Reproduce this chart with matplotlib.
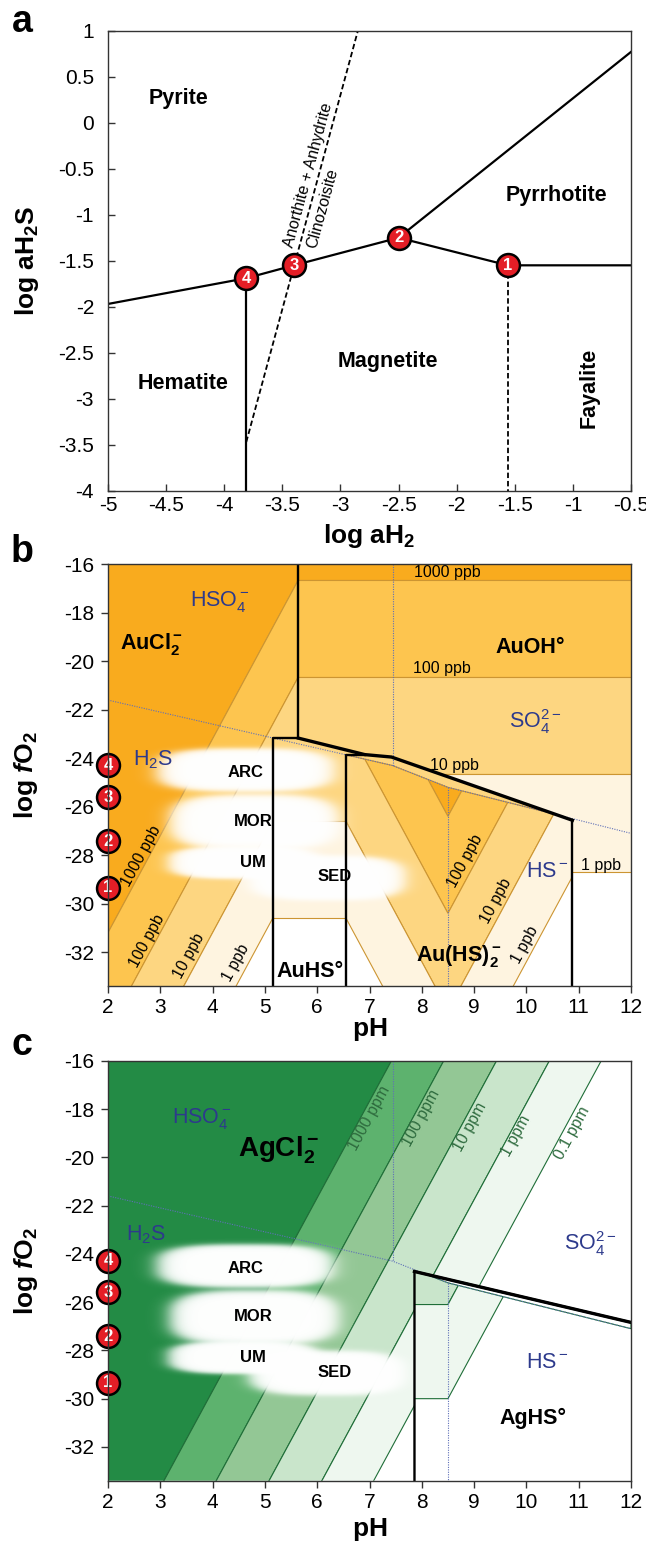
import numpy as np
import matplotlib
matplotlib.use('Agg')
import matplotlib.pyplot as plt
from matplotlib.patches import Polygon

plt.rcParams['font.family'] = ['Liberation Sans', 'DejaVu Sans']
plt.rcParams['mathtext.fontset'] = 'custom'
plt.rcParams['mathtext.rm'] = 'Liberation Sans'
plt.rcParams['mathtext.it'] = 'Liberation Sans:italic'
plt.rcParams['mathtext.bf'] = 'Liberation Sans:bold'
plt.rcParams['mathtext.bfit'] = 'Liberation Sans:italic:bold'
plt.rcParams['axes.unicode_minus'] = False

# ---------------- panel a: log aH2 vs log aH2S ----------------
a_main_x = [-5.0, -3.81, -3.40, -2.50, -1.56, -0.5]
a_main_y = [-1.97, -1.69, -1.55, -1.25, -1.55, -1.55]
a_po_x = [-2.50, -0.5]
a_po_y = [-1.25, 0.77]
a_hem_x = [-3.81, -3.81]
a_hem_y = [-1.69, -4.0]
a_czo_x = [-3.81, -2.85]
a_czo_y = [-3.47, 1.0]
a_fa_x = [-1.56, -1.56]
a_fa_y = [-1.55, -4.0]
a_pts_x = [-1.56, -2.50, -3.40, -3.81]
a_pts_y = [-1.55, -1.25, -1.55, -1.69]
pt_labels = ['1', '2', '3', '4']
minerals = ['Pyrite', 'Pyrrhotite', 'Magnetite', 'Hematite', 'Fayalite']
mineral_x = [-4.39, -1.14, -2.59, -4.35, -0.86]
mineral_y = [0.26, -0.79, -2.60, -2.83, -2.88]
mineral_rot = [0, 0, 0, 0, 90]

# ---------------- panels b, c: pH vs log fO2 ----------------
ph_lim = (2, 12)
fo2_lim = (-33.4, -16)
slope = 4.0
# sulfur species boundaries
sulf_x = [2, 7.44, 8.5, 12]
sulf_y = [-21.6, -24.3, -25.2, -27.1]
hso4_x = [7.44, 7.44]
hso4_y = [-16, -24.3]
h2s_x = [8.5, 8.5]
h2s_y = [-25.2, -33.4]

# reservoir clouds: centre x, centre y, half width, half height
cloud_names = ['ARC', 'MOR', 'UM', 'SED']
cloud_cx = [4.62, 4.80, 4.60, 6.18]
cloud_cy = [-24.5, -26.65, -28.3, -28.94]
cloud_hw = [1.70, 1.62, 1.45, 1.50]
cloud_hh = [0.90, 1.15, 0.68, 0.92]
cloud_tx = [4.62, 4.78, 4.78, 6.33]
cloud_ty = [-24.6, -26.6, -28.3, -28.9]

# numbered buffer points on the fO2 axis
buf_y = [-29.35, -27.42, -25.6, -24.28]

# gold (panel b), ppb levels 1000 / 100 / 10 / 1
au_colors = ['#F9AB1E', '#FDC54F', '#FDD681', '#FEF4E0']
aucl_x0 = [1.45, 2.45, 3.45, 4.45]        # pH of each contour at log fO2 = -33.4
auoh_y = [-16.66, -20.66, -24.66, -28.7]
auhs_y = [-18.6, -22.6, -26.6, -30.6]
auhs2_apex = [-26.4, -30.4, -34.4, -38.4]  # contour value at pH 8.5
aucl_field = [(2, -16), (5.64, -16), (5.64, -23.17), (5.15, -23.17), (5.15, -33.4), (2, -33.4)]
auoh_field = [(5.64, -16), (12, -16), (12, -33.4), (10.88, -33.4), (10.88, -26.56),
              (7.42, -23.95), (6.91, -23.85), (5.64, -23.17)]
auhs_field = [(5.15, -23.17), (5.64, -23.17), (6.55, -23.66), (6.55, -33.4), (5.15, -33.4)]
auhs2_field = [(6.55, -33.4), (6.55, -23.66), (6.91, -23.85), (7.42, -23.95),
               (10.88, -26.56), (10.88, -33.4)]

# silver (panel c), ppm levels 1000 / 100 / 10 / 1 / 0.1
ag_colors = ['#238B45', '#5DB26E', '#93C795', '#C9E5CB', '#EEF7EF']
agcl_x0 = [3.07, 4.07, 5.08, 6.09, 7.08]
aghs_apex = [-14.1, -18.1, -22.1, -26.1, -30.0]
agcl_field = [(2, -16), (12, -16), (12, -26.84), (7.86, -24.73), (7.86, -33.4), (2, -33.4)]
aghs_field = [(7.86, -33.4), (7.86, -24.73), (12, -26.84), (12, -33.4)]

au_edge = '#CC9532'
ag_edge = '#1F6E38'
blue = '#2D3A8C'
dot_col = '#5F70B8'


def clipped_fills(ax, field, polys, colors, edge):
    clip = Polygon(field, closed=True, fc='none', ec='none', transform=ax.transData)
    ax.add_patch(clip)
    for verts, c in zip(polys, colors):
        p = Polygon(verts, closed=True, fc=c, ec=edge, lw=0.8, zorder=1)
        ax.add_patch(p)
        p.set_clip_path(clip)


def slant_bands(x0s, ybot):
    lo, hi = -45.0, -5.0
    bounds = [x0s[0] - 30] + list(x0s)
    polys = []
    for xa, xb in zip(bounds[:-1], bounds[1:]):
        polys.append([(xa + (lo - ybot) / slope, lo), (xa + (hi - ybot) / slope, hi),
                      (xb + (hi - ybot) / slope, hi), (xb + (lo - ybot) / slope, lo)])
    return polys


def flat_bands(levels):
    bounds = [0.0] + list(levels)
    return [[(-5, ya), (25, ya), (25, yb), (-5, yb)] for ya, yb in zip(bounds[:-1], bounds[1:])]


def vee_bands(apexes, s_left, s_right, xc=8.5):
    xs = [-5.0, xc, 25.0]

    def path(a):
        return [(x, a + (s_left if x < xc else s_right) * (x - xc)) for x in xs]

    bounds = [apexes[0] + 60] + list(apexes)
    polys = []
    for up, low in zip(bounds[:-1], bounds[1:]):
        polys.append(path(low) + path(up)[::-1])
    return polys


def cloud(ax, cx, cy, hw, hh):
    xs = np.linspace(cx - 1.5 * hw, cx + 1.5 * hw, 260)
    ys = np.linspace(cy - 1.6 * hh, cy + 1.6 * hh, 160)
    X, Y = np.meshgrid(xs, ys)
    r = (np.abs((X - cx) / hw) ** 3 + np.abs((Y - cy) / hh) ** 3) ** (1 / 3)
    img = np.ones(X.shape + (4,))
    img[..., 3] = 1.0 / (1.0 + np.exp((r - 1.0) / 0.06))
    ax.imshow(img, extent=(xs[0], xs[-1], ys[0], ys[-1]), origin='lower',
              aspect='auto', interpolation='bilinear', zorder=3)


def markers(ax, xs, ys, size=16.5):
    for x, y, lab in zip(xs, ys, pt_labels):
        ax.plot(x, y, 'o', ms=size, mfc='#E41E26', mec='black', mew=1.8,
                clip_on=False, zorder=10)
        ax.text(x, y, lab, color='white', fontsize=12, fontweight='bold',
                ha='center', va='center', clip_on=False, zorder=11)


def sulfur_lines(ax):
    for xs, ys in [(sulf_x, sulf_y), (hso4_x, hso4_y), (h2s_x, h2s_y)]:
        ax.plot(xs, ys, color=dot_col, lw=0.8, ls=(0, (1, 1.2)), zorder=2)


def style(ax, direction):
    for sp in ax.spines.values():
        sp.set_color('#333333')
        sp.set_linewidth(1.0)
        sp.set_zorder(12)
    ax.tick_params(direction=direction, length=5, width=1, color='#333333',
                   labelsize=15)


fig = plt.figure(figsize=(6.46, 15.45), dpi=100)
left, width = 108 / 646, 523 / 646

# ---- a ----
ax = fig.add_axes([left, 0.6824, width, 0.2977])
ax.plot(a_main_x, a_main_y, color='black', lw=1.6)
ax.plot(a_po_x, a_po_y, color='black', lw=1.6)
ax.plot(a_hem_x, a_hem_y, color='black', lw=1.6)
ax.plot(a_czo_x, a_czo_y, color='black', lw=1.3, ls=(0, (3, 1.6)))
ax.plot(a_fa_x, a_fa_y, color='black', lw=1.3, ls=(0, (3, 1.6)))
for name, x, y, rot in zip(minerals, mineral_x, mineral_y, mineral_rot):
    ax.text(x, y, name, fontsize=15.5, fontweight='bold', ha='center', va='center', rotation=rot)
czo_ang = np.degrees(np.arctan2(a_czo_y[1] - a_czo_y[0], a_czo_x[1] - a_czo_x[0]))
ax.text(-3.28, -0.57, 'Anorthite + Anhydrite', fontsize=11.5, ha='center', va='center',
        rotation=czo_ang, transform_rotates_text=True)
ax.text(-3.15, -0.93, 'Clinozoisite', fontsize=11.5, ha='center', va='center',
        rotation=czo_ang, transform_rotates_text=True)
markers(ax, a_pts_x, a_pts_y)
ax.set_xlim(-5, -0.5)
ax.set_ylim(-4, 1)
ax.set_xticks(np.arange(-5, -0.49, 0.5))
ax.set_yticks(np.arange(-4, 1.01, 0.5))
ax.xaxis.set_major_formatter(plt.FuncFormatter(lambda v, p: '%g' % v))
ax.yaxis.set_major_formatter(plt.FuncFormatter(lambda v, p: '%g' % v))
style(ax, 'in')
ax.tick_params(axis='y', pad=10)
ax.tick_params(axis='x', pad=4)
ax.set_xlabel(r'$\mathbf{log\ aH_2}$', fontsize=19)
ax.set_ylabel(r'$\mathbf{log\ aH_2S}$', fontsize=19)
ax.xaxis.set_label_coords(0.5, -0.068)
ax.yaxis.set_label_coords(-0.128, 0.5)

# ---- b ----
ax = fig.add_axes([left, 0.3618, width, 0.2729])
clipped_fills(ax, aucl_field, slant_bands(aucl_x0, fo2_lim[0]), au_colors, au_edge)
clipped_fills(ax, auoh_field, flat_bands(auoh_y), au_colors, au_edge)
clipped_fills(ax, auhs_field, flat_bands(auhs_y), au_colors, au_edge)
clipped_fills(ax, auhs2_field, vee_bands(auhs2_apex, -slope, slope), au_colors, au_edge)
so4_zone = list(zip(sulf_x, sulf_y)) + [(12, -5), (2, -5)]
clipped_fills(ax, auhs2_field, [so4_zone], [au_colors[2]], au_edge)
sulfur_lines(ax)
for cx, cy, hw, hh in zip(cloud_cx, cloud_cy, cloud_hw, cloud_hh):
    cloud(ax, cx, cy, hw, hh)
ax.plot([5.64, 5.64], [-16, -23.17], color='black', lw=1.7, zorder=4)
ax.plot([5.15, 5.15, 5.64], [-33.4, -23.17, -23.17], color='black', lw=1.7, zorder=4)
ax.plot([5.64, 6.91, 7.42, 10.88], [-23.17, -23.85, -23.95, -26.56], color='black', lw=2.4,
        zorder=4, solid_joinstyle='miter')
ax.plot([10.88, 10.88], [-26.56, -33.4], color='black', lw=1.7, zorder=4)
ax.plot([6.55, 6.55, 6.91], [-33.4, -23.86, -23.86], color='black', lw=1.7, zorder=4)
for name, x, y in zip(cloud_names, cloud_tx, cloud_ty):
    ax.text(x, y, name, fontsize=12, fontweight='bold', ha='center', va='center', zorder=5)
ax.text(2.83, -19.3, r'$\mathbf{AuCl_2^-}$', fontsize=15.5, ha='center', va='center', zorder=5)
ax.text(10.07, -19.43, 'AuOH°', fontsize=15.5, fontweight='bold', ha='center', va='center', zorder=5)
ax.text(5.86, -32.79, 'AuHS°', fontsize=15.5, fontweight='bold', ha='center', va='center', zorder=5)
ax.text(8.7, -32.17, r'$\mathbf{Au(HS)_2^-}$', fontsize=15.5, ha='center', va='center', zorder=5)
ax.text(4.13, -17.54, r'HSO$_4^-$', fontsize=15.5, color=blue, ha='center', va='center', zorder=5)
ax.text(10.16, -22.48, r'SO$_4^{2-}$', fontsize=15.5, color=blue, ha='center', va='center', zorder=5)
ax.text(2.87, -24.04, r'H$_2$S', fontsize=15.5, color=blue, ha='center', va='center', zorder=5)
ax.text(10.4, -28.67, r'HS$^-$', fontsize=15.5, color=blue, ha='center', va='center', zorder=5)
for lab, x, y in zip(['1000 ppb', '100 ppb', '10 ppb', '1 ppb'],
                     [8.49, 8.39, 8.62, 11.42], [-16.34, -20.29, -24.31, -28.42]):
    ax.text(x, y, lab, fontsize=11.5, ha='center', va='center', zorder=5)
ang = np.degrees(np.arctan2(slope, 1))
for lab, x, y in zip(['1000 ppb', '100 ppb', '10 ppb', '1 ppb', '100 ppb', '10 ppb', '1 ppb'],
                     [2.63, 2.75, 3.54, 4.44, 8.82, 9.41, 9.97],
                     [-28.05, -31.55, -32.17, -32.44, -28.25, -29.9, -31.7]):
    ax.text(x, y, lab, fontsize=11.5, ha='center', va='center', rotation=ang,
            transform_rotates_text=True, zorder=5)
markers(ax, [2] * 4, buf_y)
ax.set_xlim(*ph_lim)
ax.set_ylim(*fo2_lim)
ax.set_xticks(range(2, 13))
ax.set_yticks(range(-32, -15, 2))
style(ax, 'out')
ax.tick_params(axis='y', pad=5)
ax.set_xlabel(r'$\mathbf{pH}$', fontsize=19)
ax.set_ylabel(r'$\mathbf{log}\ \mathbfit{f}\mathbf{O_2}$', fontsize=19)
ax.xaxis.set_label_coords(0.5, -0.072)
ax.yaxis.set_label_coords(-0.13, 0.5)

# ---- c ----
ax = fig.add_axes([left, 0.0416, width, 0.2718])
clipped_fills(ax, agcl_field, slant_bands(agcl_x0, fo2_lim[0]), ag_colors, ag_edge)
clipped_fills(ax, aghs_field, vee_bands(aghs_apex, 0.0, slope), ag_colors, ag_edge)
clipped_fills(ax, aghs_field, [so4_zone], ['white'], ag_edge)
sulfur_lines(ax)
for cx, cy, hw, hh in zip(cloud_cx, cloud_cy, cloud_hw, cloud_hh):
    cloud(ax, cx, cy, hw, hh)
ax.plot([7.86, 7.86, 12], [-33.4, -24.73, -26.84], color='black', lw=1.7, zorder=4)
ax.plot([7.86, 12], [-24.73, -26.84], color='black', lw=2.4, zorder=4)
for name, x, y in zip(cloud_names, cloud_tx, cloud_ty):
    ax.text(x, y, name, fontsize=12, fontweight='bold', ha='center', va='center', zorder=5)
ax.text(5.26, -19.72, r'$\mathbf{AgCl_2^-}$', fontsize=20, ha='center', va='center', zorder=5)
ax.text(10.12, -30.8, 'AgHS°', fontsize=15.5, fontweight='bold', ha='center', va='center', zorder=5)
ax.text(3.79, -18.39, r'HSO$_4^-$', fontsize=15.5, color=blue, ha='center', va='center', zorder=5)
ax.text(11.22, -23.56, r'SO$_4^{2-}$', fontsize=15.5, color=blue, ha='center', va='center', zorder=5)
ax.text(2.73, -23.21, r'H$_2$S', fontsize=15.5, color=blue, ha='center', va='center', zorder=5)
ax.text(10.4, -28.52, r'HS$^-$', fontsize=15.5, color=blue, ha='center', va='center', zorder=5)
for lab, x, y in zip(['1000 ppm', '100 ppm', '10 ppm', '1 ppm', '0.1 ppm'],
                     [7.0, 7.98, 8.93, 9.8, 10.87], [-18.39, -18.39, -18.73, -19.12, -19.0]):
    ax.text(x, y, lab, fontsize=11.5, color='#2E6B3E', ha='center', va='center',
            rotation=ang, transform_rotates_text=True, zorder=5)
markers(ax, [2] * 4, buf_y)
ax.set_xlim(*ph_lim)
ax.set_ylim(*fo2_lim)
ax.set_xticks(range(2, 13))
ax.set_yticks(range(-32, -15, 2))
style(ax, 'out')
ax.tick_params(axis='y', pad=5)
ax.set_xlabel(r'$\mathbf{pH}$', fontsize=19)
ax.set_ylabel(r'$\mathbf{log}\ \mathbfit{f}\mathbf{O_2}$', fontsize=19)
ax.xaxis.set_label_coords(0.5, -0.085)
ax.yaxis.set_label_coords(-0.13, 0.5)

for letter, y in zip(['a', 'b', 'c'], [22, 552, 1045]):
    fig.text(22 / 646, 1 - y / 1545, letter, fontsize=27, fontweight='bold',
             ha='center', va='center')

fig.savefig('out.png', dpi=100)
